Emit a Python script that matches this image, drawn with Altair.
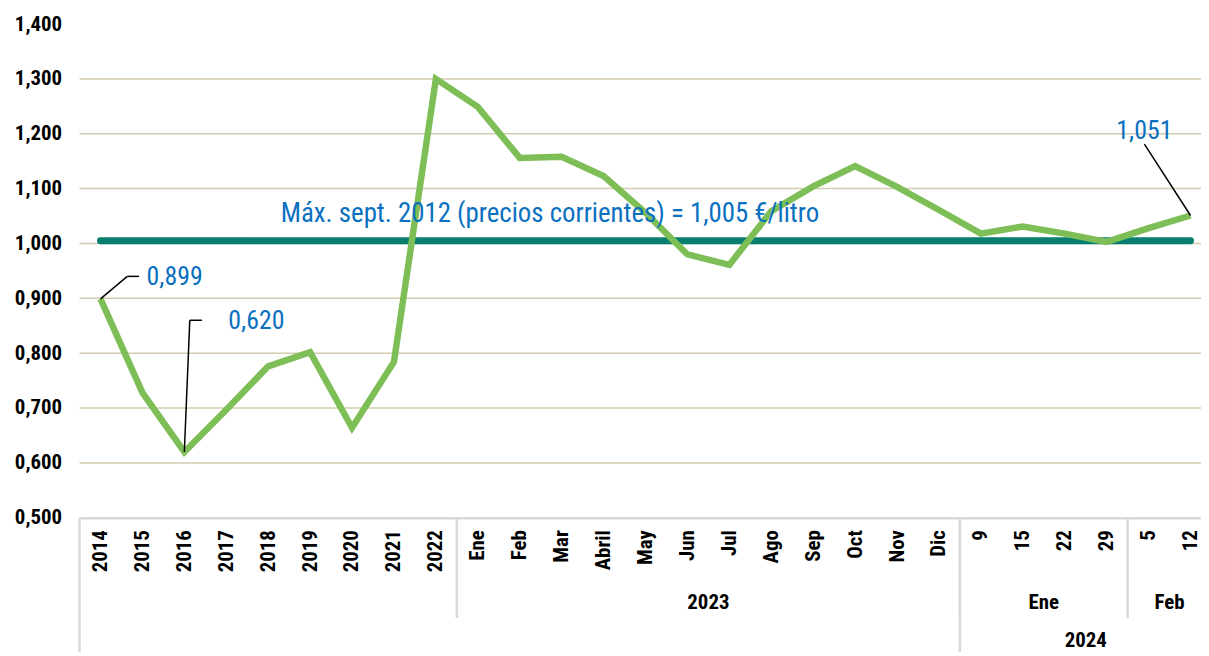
import json
import altair as alt
import pandas as pd

# ---------------- data ----------------
categories = ["2014", "2015", "2016", "2017", "2018", "2019", "2020", "2021", "2022",
              "Ene", "Feb", "Mar", "Abril", "May", "Jun", "Jul", "Ago", "Sep", "Oct", "Nov", "Dic",
              "9", "15", "22", "29", "5", "12"]
prices = [0.899, 0.728, 0.620, 0.697, 0.776, 0.802, 0.664, 0.784, 1.300,
          1.249, 1.156, 1.158, 1.123, 1.056, 0.980, 0.961, 1.059, 1.104, 1.141, 1.103, 1.061,
          1.018, 1.031, 1.018, 1.003, 1.028, 1.051]
group_labels = ["", "2023", "Ene", "Feb"]       # second level of the x axis
group_sizes = [9, 12, 4, 2]
top_labels = ["", "2024"]                       # third level of the x axis
top_sizes = [21, 6]
reference_value = 1.005
reference_label = "Máx. sept. 2012 (precios corrientes) = 1,005 €/litro"
y_ticks = [0.5, 0.6, 0.7, 0.8, 0.9, 1.0, 1.1, 1.2, 1.3, 1.4]
grid_values = [0.6, 0.7, 0.8, 0.9, 1.0, 1.1, 1.2, 1.3]
annotated_points = [0, 2, 26]
annotated_texts = ["0,899", "0,620", "1,051"]

# ---------------- styling ----------------
FONT = "'Liberation Sans Narrow', 'Roboto Condensed', Roboto"
GREEN = "#7DBE56"
TEAL = "#087F6E"
BLUE = "#0A70C0"
GRID = "#D3CCAE"
SEP = "#D9D9D9"

W, H = 1129, 497
n = len(categories)

df = pd.DataFrame({"i": list(range(n)), "price": prices})

# the last band is partly outside the window, as in the original
xscale = alt.Scale(domain=[-0.5, n - 0.75], nice=False, zero=False)
yscale = alt.Scale(domain=[0.5, 1.4], nice=False, zero=False)

label_js = json.dumps(categories, ensure_ascii=False)

x_axis = alt.Axis(values=list(range(n)), labelExpr=f"{label_js}[datum.value]",
                  labelAngle=270, labelFont=FONT, labelFontWeight="bold", labelFontSize=21,
                  labelColor="black", labelPadding=12, ticks=False, tickSize=0, grid=False,
                  domainColor=SEP, domainWidth=2.5, title=None, labelOverlap=False)
y_axis = alt.Axis(values=y_ticks, labelExpr="replace(format(datum.value, '.3f'), '.', ',')",
                  labelFont=FONT, labelFontWeight="bold", labelFontSize=21, labelColor="black",
                  labelPadding=18, ticks=False, tickSize=0, grid=False, domain=False, title=None)

X = lambda f: alt.X(f, type="quantitative", scale=xscale, axis=x_axis)
Y = lambda f: alt.Y(f, type="quantitative", scale=yscale, axis=y_axis)

# grid
grid = alt.Chart(pd.DataFrame({"v": grid_values})).mark_rule(
    color=GRID, strokeWidth=1.5).encode(y=Y("v"))

# main line
line = alt.Chart(df).mark_line(color=GREEN, strokeWidth=6.5, strokeJoin="miter").encode(
    x=X("i"), y=Y("price"))

# reference line
ref_df = pd.DataFrame({"i": [0, n - 1], "v": [reference_value, reference_value]})
ref_line = alt.Chart(ref_df).mark_line(color=TEAL, strokeWidth=7, strokeCap="round").encode(
    x=X("i"), y=Y("v"))
ref_text = alt.Chart(pd.DataFrame({"i": [4.3], "v": [1.054], "t": [reference_label]})).mark_text(
    font=FONT, fontSize=27, color=BLUE, align="left", baseline="middle").encode(
    x=X("i"), y=Y("v"), text="t:N")

# annotations with leader lines
p = {k: prices[k] for k in annotated_points}
leaders = pd.DataFrame({
    "x":  [0, 0.64, 2, 2.13, n - 1],
    "y":  [p[0], 0.940, p[2], 0.860, p[n - 1]],
    "x2": [0.64, 0.92, 2.13, 2.42, 24.9],
    "y2": [0.940, 0.940, 0.860, 0.860, 1.181],
})
leader_rules = alt.Chart(leaders).mark_rule(color="black", strokeWidth=1.5).encode(
    x=X("x"), y=Y("y"), x2="x2:Q", y2="y2:Q")
ann_left = alt.Chart(pd.DataFrame({"x": [1.1, 3.05], "y": [0.939, 0.859],
                                   "t": annotated_texts[:2]})).mark_text(
    font=FONT, fontSize=26, color=BLUE, align="left", baseline="middle").encode(
    x=X("x"), y=Y("y"), text="t:N")
ann_right = alt.Chart(pd.DataFrame({"x": [24.9], "y": [1.205],
                                    "t": annotated_texts[2:]})).mark_text(
    font=FONT, fontSize=26, color=BLUE, align="center", baseline="middle").encode(
    x=X("x"), y=Y("y"), text="t:N")

# hierarchical axis: group labels and separators
def spans(labels, sizes):
    rows, start = [], 0
    for lab, s in zip(labels, sizes):
        rows.append({"label": lab, "center": start + (s - 1) / 2, "left": start - 0.5})
        start += s
    return pd.DataFrame(rows)

g2 = spans(group_labels, group_sizes)
g3 = spans(top_labels, top_sizes)

row2_text = alt.Chart(g2).mark_text(font=FONT, fontSize=21, fontWeight="bold",
                                    color="black", baseline="middle").encode(
    x=X("center"), y=alt.value(H + 86), text="label:N")
row3_text = alt.Chart(g3).mark_text(font=FONT, fontSize=21, fontWeight="bold",
                                    color="black", baseline="middle").encode(
    x=X("center"), y=alt.value(H + 124), text="label:N")
sep2 = alt.Chart(g2[g2["left"] > 0]).mark_rule(color=SEP, strokeWidth=2.5).encode(
    x=X("left"), y=alt.value(H), y2=alt.value(H + 101))
sep3 = alt.Chart(g3).mark_rule(color=SEP, strokeWidth=2.5).encode(
    x=X("left"), y=alt.value(H), y2=alt.value(H + 150))

chart = alt.layer(
    grid, sep2, sep3, ref_line, line, leader_rules, ref_text, ann_left, ann_right,
    row2_text, row3_text,
).properties(
    width=W, height=H,
    autosize=alt.AutoSizeParams(type="none"),
    padding={"left": 72, "top": 14, "right": 0, "bottom": 133},
    background="white",
).configure_view(stroke=None)

chart.save("out.html", embed_options={"renderer": "svg", "actions": False})
